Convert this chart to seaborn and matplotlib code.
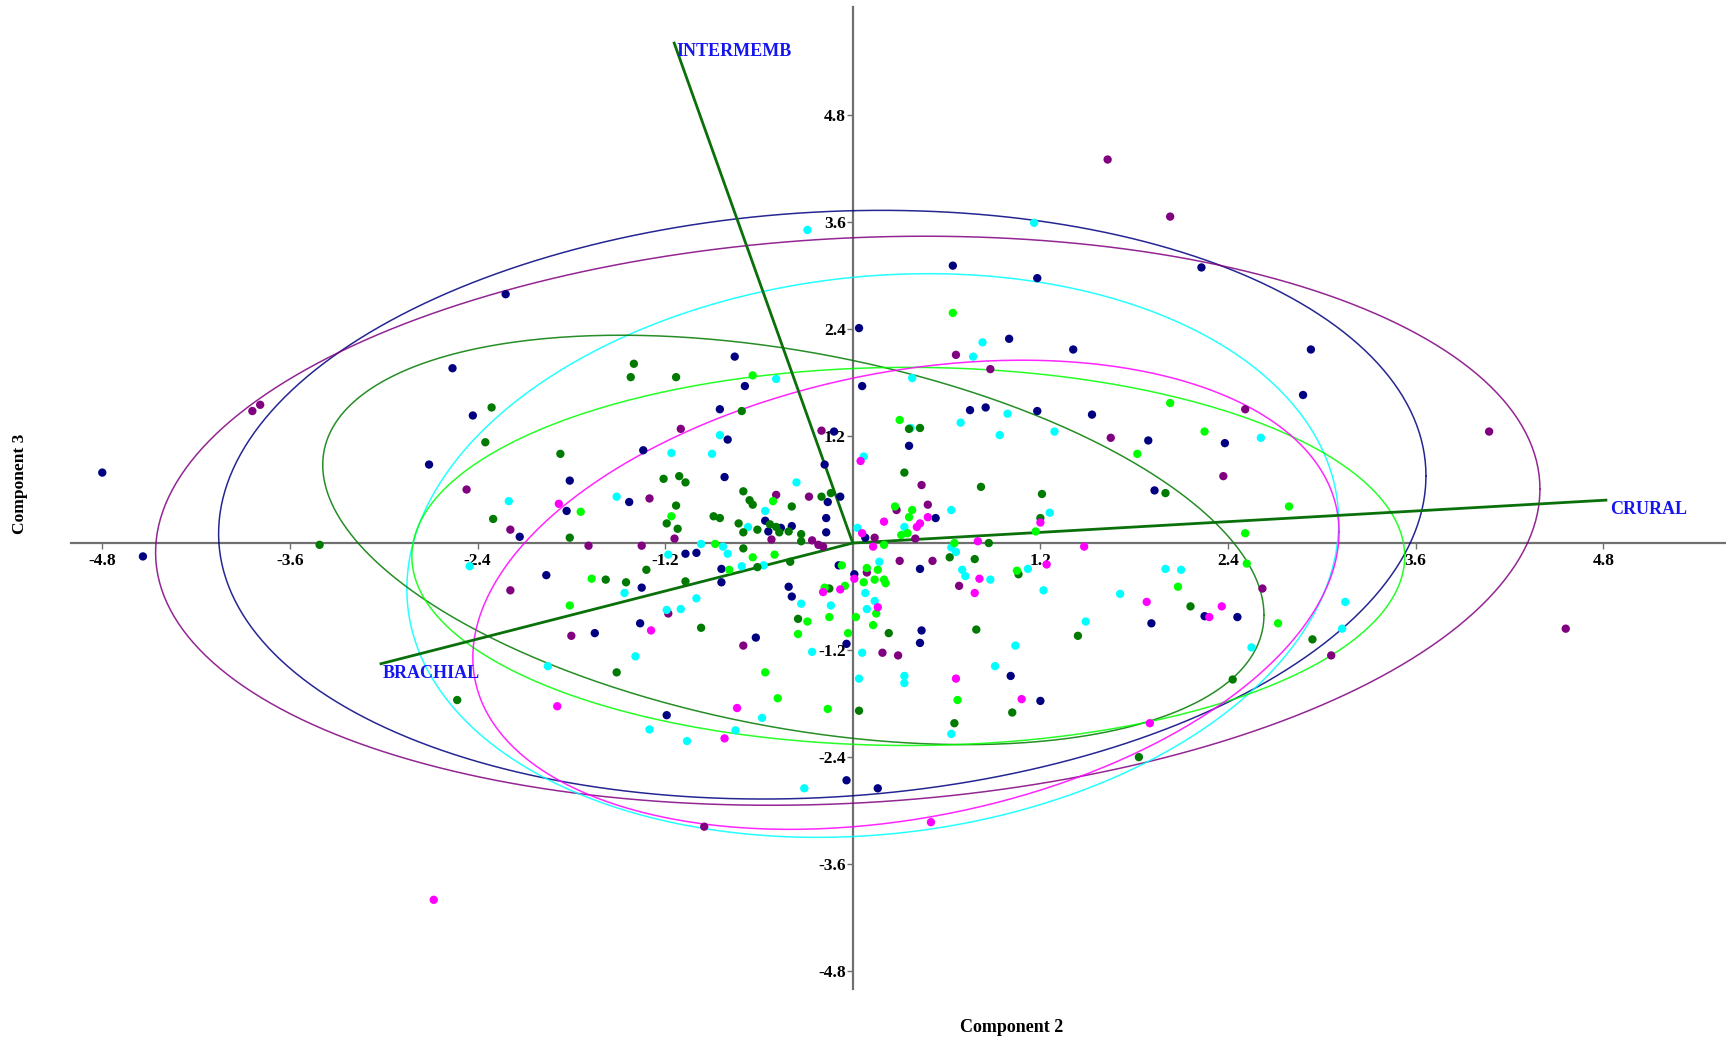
import numpy as np
import pandas as pd
import matplotlib
matplotlib.use("Agg")
import matplotlib.pyplot as plt
import seaborn as sns

# ---- PCA scores (Component 2, Component 3) per group ----
g1_pts = [(-2.22, 2.79), (0.04, 2.41), (0.64, 3.11), (1.18, 2.97), (2.23, 3.09), (1.00, 2.29),
          (1.41, 2.17), (2.93, 2.17), (-2.56, 1.96), (-0.755, 2.09), (-0.69, 1.76), (0.06, 1.76),
          (-0.85, 1.50), (-0.80, 1.16), (-0.12, 1.25), (-1.34, 1.04), (-0.18, 0.88), (-1.81, 0.70),
          (-0.82, 0.74), (-0.08, 0.52), (-1.43, 0.46), (-1.83, 0.36), (-0.16, 0.46), (-2.13, 0.07),
          (-0.56, 0.25), (-0.54, 0.13), (-0.46, 0.17), (-0.39, 0.19), (-0.17, 0.12), (-0.17, 0.28),
          (0.08, 0.06), (-1.07, -0.12), (-1.00, -0.11), (-0.84, -0.29), (-1.96, -0.36), (-1.35, -0.50),
          (-0.84, -0.44), (-0.09, -0.25), (0.01, -0.35), (-0.41, -0.49), (-0.39, -0.60), (-1.36, -0.90),
          (-1.65, -1.01), (-0.62, -1.06), (-0.04, -1.13), (0.75, 1.49), (0.85, 1.52), (1.18, 1.48),
          (1.53, 1.44), (1.89, 1.15), (2.38, 1.12), (2.88, 1.66), (0.36, 1.09), (1.93, 0.59),
          (0.53, 0.28), (0.43, -0.29), (2.25, -0.82), (2.46, -0.83), (1.91, -0.90), (0.44, -0.98),
          (0.43, -1.12), (1.01, -1.49), (1.20, -1.77), (-1.19, -1.93), (-0.04, -2.66), (0.16, -2.75),
          (-4.80, 0.79), (-4.54, -0.15), (-2.43, 1.43), (-2.71, 0.88)]

g2_pts = [(1.63, 4.30), (2.03, 3.66), (0.66, 2.11), (0.88, 1.95), (-1.10, 1.28), (-0.20, 1.26),
          (-0.49, 0.54), (-0.28, 0.52), (-1.30, 0.50), (-2.19, 0.15), (-1.14, 0.05), (-0.52, 0.04),
          (-0.26, 0.03), (-0.22, -0.02), (-0.19, -0.04), (0.14, 0.06), (0.28, 0.37), (-1.69, -0.03),
          (-1.35, -0.03), (-2.19, -0.53), (-1.18, -0.79), (-1.80, -1.04), (-0.70, -1.15), (0.09, -0.33),
          (0.19, -1.23), (0.29, -1.26), (0.30, -0.20), (2.51, 1.50), (1.65, 1.18), (2.37, 0.75),
          (0.44, 0.65), (0.48, 0.43), (0.40, 0.05), (0.51, -0.20), (0.68, -0.48), (2.62, -0.51),
          (-0.95, -3.18), (-3.84, 1.48), (-3.79, 1.55), (-2.47, 0.60), (4.07, 1.25), (4.56, -0.96),
          (3.06, -1.26)]

g3_pts = [(-0.29, 3.51), (1.16, 3.59), (0.83, 2.25), (0.77, 2.09), (-0.49, 1.84), (-0.85, 1.21),
          (-1.16, 1.01), (-0.90, 1.00), (0.07, 0.97), (-0.36, 0.68), (-2.20, 0.47), (-1.51, 0.52),
          (-0.56, 0.36), (-0.67, 0.18), (0.03, 0.17), (-0.97, -0.01), (-0.83, -0.04), (-0.80, -0.12),
          (-1.18, -0.13), (-0.57, -0.25), (-0.71, -0.26), (-1.46, -0.56), (-0.33, -0.68), (-0.14, -0.70),
          (-1.00, -0.62), (-1.10, -0.74), (-1.19, -0.75), (-0.26, -1.22), (-1.39, -1.27), (-1.95, -1.38),
          (0.04, -1.52), (0.17, -0.21), (0.08, -0.56), (0.14, -0.65), (0.09, -0.74), (0.06, -1.23),
          (0.38, 1.85), (0.99, 1.45), (0.69, 1.35), (0.94, 1.21), (1.29, 1.25), (2.61, 1.18),
          (0.37, 1.29), (0.63, 0.37), (0.33, 0.18), (1.26, 0.34), (0.63, -0.05), (0.66, -0.10),
          (0.70, -0.30), (0.72, -0.37), (1.12, -0.29), (0.88, -0.41), (1.22, -0.53), (1.71, -0.57),
          (2.00, -0.29), (2.10, -0.30), (1.49, -0.88), (2.55, -1.17), (1.04, -1.15), (0.33, -1.49),
          (0.33, -1.57), (0.91, -1.38), (-1.30, -2.09), (-1.06, -2.22), (-0.58, -1.96), (-0.75, -2.10),
          (-0.31, -2.75), (0.63, -2.14), (-2.45, -0.26), (3.15, -0.66), (3.13, -0.96)]

g4_pts = [(-1.40, 2.01), (-1.42, 1.86), (-1.13, 1.86), (-2.31, 1.52), (-0.71, 1.48), (-2.35, 1.13),
          (-1.87, 1.00), (-1.21, 0.72), (-1.11, 0.75), (-1.07, 0.68), (-0.70, 0.58), (-0.20, 0.52),
          (-0.14, 0.56), (-2.30, 0.27), (-1.13, 0.42), (-0.66, 0.48), (-0.64, 0.43), (-0.39, 0.41),
          (-1.81, 0.06), (-1.19, 0.22), (-1.12, 0.16), (-0.89, 0.30), (-0.85, 0.28), (-0.73, 0.22),
          (-0.70, 0.12), (-0.61, 0.15), (-0.53, 0.21), (-0.49, 0.18), (-0.47, 0.12), (-0.41, 0.13),
          (-0.33, 0.10), (-0.33, 0.02), (-0.70, -0.06), (-0.40, -0.21), (-0.61, -0.27), (-1.32, -0.30),
          (-1.58, -0.41), (-1.45, -0.44), (-1.07, -0.43), (-0.15, -0.51), (-0.35, -0.85), (-0.97, -0.95),
          (-1.51, -1.45), (0.23, -1.01), (0.43, 1.29), (0.33, 0.79), (0.82, 0.63), (1.21, 0.55),
          (1.20, 0.28), (0.87, 0.00), (0.62, -0.16), (0.78, -0.18), (1.06, -0.35), (2.00, 0.56),
          (2.16, -0.71), (1.44, -1.04), (2.94, -1.08), (2.43, -1.53), (0.79, -0.97), (0.04, -1.88),
          (0.65, -2.02), (1.02, -1.90), (1.83, -2.40), (-2.53, -1.76), (-3.41, -0.02), (0.36, 1.28)]

g5_pts = [(0.64, 2.58), (-0.64, 1.88), (0.30, 1.38), (-1.74, 0.35), (-0.51, 0.47), (-1.16, 0.30),
          (0.27, 0.41), (-0.88, -0.01), (-0.64, -0.16), (-0.50, -0.13), (-0.79, -0.30), (-1.67, -0.40),
          (-0.07, -0.25), (-0.18, -0.50), (-0.05, -0.48), (-0.29, -0.88), (-0.15, -0.83), (-1.81, -0.70),
          (-0.35, -1.02), (-0.03, -1.01), (-0.56, -1.45), (-0.48, -1.74), (0.09, -0.28), (0.16, -0.30),
          (0.07, -0.44), (0.14, -0.41), (0.20, -0.41), (0.21, -0.45), (0.15, -0.79), (0.02, -0.83),
          (0.13, -0.92), (0.20, -0.02), (2.03, 1.57), (2.25, 1.25), (1.82, 1.00), (2.79, 0.41),
          (0.38, 0.37), (0.36, 0.29), (0.35, 0.11), (0.31, 0.09), (1.17, 0.13), (2.51, 0.11),
          (0.65, 0.00), (1.05, -0.31), (2.08, -0.49), (2.52, -0.23), (2.72, -0.90), (0.67, -1.76),
          (-0.16, -1.86)]

g6_pts = [(0.05, 0.92), (-1.88, 0.44), (0.06, 0.11), (0.20, 0.24), (0.01, -0.40), (-0.19, -0.55),
          (-0.08, -0.52), (-1.29, -0.98), (0.13, -0.04), (0.16, -0.72), (0.48, 0.29), (0.43, 0.22),
          (0.41, 0.18), (1.20, 0.23), (0.80, 0.02), (1.48, -0.04), (1.24, -0.24), (0.81, -0.40),
          (0.78, -0.56), (1.88, -0.66), (2.28, -0.83), (2.36, -0.71), (0.66, -1.52), (1.08, -1.75),
          (-1.89, -1.83), (-0.74, -1.85), (-0.82, -2.19), (1.90, -2.02), (0.50, -3.13), (-2.68, -4.00)]

group_names = ["G1", "G2", "G3", "G4", "G5", "G6"]
group_colors = ["#000080", "#800080", "#00FFFF", "#007A00", "#00FF00", "#FF00FF"]

# ---- 95% ellipses: centre, half extents along axes, covariance term ----
ell_cx = [-0.195, -0.032, 0.128, -0.38, 0.355, 0.34]
ell_cy = [0.43, 0.25, -0.14, 0.035, -0.15, -0.58]
ell_hx = [3.861, 4.427, 2.98, 3.01, 3.175, 2.77]
ell_hy = [3.30, 3.19, 3.16, 2.295, 2.12, 2.63]
ell_sxy = [1.25, 1.57, 1.12, -2.53, 0.0, 1.95]

# ---- variable loadings (biplot vectors) ----
var_names = ["CRURAL", "INTERMEMB", "BRACHIAL"]
load_x = [4.826, -1.145, -3.026]
load_y = [0.482, 5.62, -1.357]

ticks = [-4.8, -3.6, -2.4, -1.2, 1.2, 2.4, 3.6, 4.8]

sns.set_theme(style="white")
plt.rcParams["font.family"] = ["Liberation Serif", "DejaVu Serif"]
plt.rcParams["font.weight"] = "bold"

frames = []
for name, pts in zip(group_names, [g1_pts, g2_pts, g3_pts, g4_pts, g5_pts, g6_pts]):
    arr = np.array(pts)
    frames.append(pd.DataFrame({"pc2": arr[:, 0], "pc3": arr[:, 1], "group": name}))
df = pd.concat(frames, ignore_index=True)

fig = plt.figure(figsize=(17.26, 10.44), dpi=100)
ax = fig.add_axes([71 / 1726, 55 / 1044, 1655 / 1726, 982 / 1044])
ax.set_xlim(-5.0, 5.585)
ax.set_ylim(-5.0, 6.01)

# confidence ellipses
t = np.linspace(0, 2 * np.pi, 500)
circ = np.vstack([np.cos(t), np.sin(t)])
for cx, cy, hx, hy, sxy, col in zip(ell_cx, ell_cy, ell_hx, ell_hy, ell_sxy, group_colors):
    S = np.array([[hx ** 2, sxy], [sxy, hy ** 2]])
    L = np.linalg.cholesky(S)
    e = L @ circ
    ax.plot(cx + e[0], cy + e[1], color=col, lw=1.1, zorder=2, alpha=0.85)

# loading vectors
for name, lx, ly in zip(var_names, load_x, load_y):
    ax.plot([0, lx], [0, ly], color="#0A700A", lw=2.0, zorder=3, solid_capstyle="butt")
    ax.text(lx + 0.02, ly - 0.11, name, color="#1515F0", fontsize=13, fontweight="bold",
            ha="left", va="center", zorder=5)

sns.scatterplot(data=df, x="pc2", y="pc3", hue="group", palette=dict(zip(group_names, group_colors)),
                s=36, linewidth=0, legend=False, ax=ax, zorder=4)

# axes through the origin
for side in ["top", "right"]:
    ax.spines[side].set_visible(False)
for side in ["left", "bottom"]:
    ax.spines[side].set_position(("data", 0))
    ax.spines[side].set_color("#707070")
    ax.spines[side].set_linewidth(1.6)
ax.spines["bottom"].set_zorder(1)
ax.spines["left"].set_zorder(1)

ax.set_xticks(ticks)
ax.set_yticks(ticks)
ax.set_xticklabels([f"{v:.1f}" for v in ticks])
ax.set_yticklabels([f"{v:.1f}" for v in ticks])
ax.tick_params(axis="x", direction="out", length=4, width=1.0, color="#707070", pad=3.5,
               labelsize=12.5, bottom=True)
ax.tick_params(axis="y", direction="out", length=4, width=1.0, color="#707070", pad=1,
               labelsize=12.5, left=True)
for lab in ax.get_xticklabels() + ax.get_yticklabels():
    lab.set_fontweight("bold")
    lab.set_color("black")

ax.set_xlabel("")
ax.set_ylabel("")
fig.text(1012 / 1726, 1 - 1027 / 1044, "Component 2", ha="center", va="center",
         fontsize=13, fontweight="bold", color="black")
fig.text(20 / 1726, 1 - 484 / 1044, "Component 3", ha="center", va="center", rotation=90,
         fontsize=12.5, fontweight="bold", color="black")

fig.savefig("out.png", dpi=100, facecolor="white")
